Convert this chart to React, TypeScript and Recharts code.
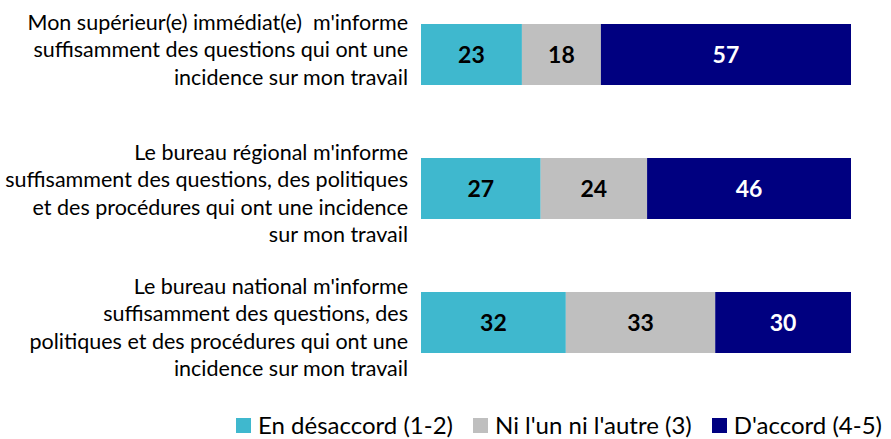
import { Bar, BarChart, LabelList, Legend, XAxis, YAxis } from "recharts";

const categories = [
  ["Mon supérieur(e) immédiat(e)  m'informe", "suffisamment des questions qui ont une", "incidence sur mon travail"],
  ["Le bureau régional m'informe", "suffisamment des questions, des politiques", "et des procédures qui ont une incidence", "sur mon travail"],
  ["Le bureau national m'informe", "suffisamment des questions, des", "politiques et des procédures qui ont une", "incidence sur mon travail"],
];
const disagree = [23, 27, 32];
const neutral = [18, 24, 33];
const agree = [57, 46, 30];

const series = [
  { key: "disagree", name: "En désaccord (1-2)", color: "#3FB8CE", text: "#000000" },
  { key: "neutral", name: "Ni l'un ni l'autre (3)", color: "#BFBFBF", text: "#000000" },
  { key: "agree", name: "D'accord (4-5)", color: "#000080", text: "#ffffff" },
];

const data = categories.map((lines, i) => ({
  label: lines.join("|"),
  disagree: disagree[i],
  neutral: neutral[i],
  agree: agree[i],
}));

const FONT = "Lato, 'Open Sans', sans-serif";

function CategoryTick({ y, payload }: any) {
  const lines = String(payload.value).split("|");
  const lh = 27.5;
  // Excel centres 3-line labels a little high, 4-line ones a little low
  const shift = lines.length > 3 ? 5 : -5;
  const start = y + shift - ((lines.length - 1) * lh) / 2;
  const x = 408;
  return (
    <text x={x} y={start} textAnchor="end" fontFamily={FONT} fontSize={21.5} fill="#000" style={{ whiteSpace: "pre" }}>
      {lines.map((l, i) => (
        <tspan key={i} x={x} y={start + i * lh} dominantBaseline="central">
          {l}
        </tspan>
      ))}
    </text>
  );
}

function LegendContent() {
  return (
    <div
      style={{
        display: "flex",
        paddingLeft: 236,
        fontFamily: FONT,
        fontSize: 24,
        color: "#000",
        lineHeight: "30px",
        height: 30,
        whiteSpace: "nowrap",
      }}
    >
      {series.map((s, i) => (
        <div
          key={s.key}
          style={{ display: "flex", alignItems: "center", flexShrink: 0, marginRight: i < series.length - 1 ? 20 : 0 }}
        >
          <span style={{ width: 15, height: 15, background: s.color, display: "inline-block", marginRight: 7 }} />
          <span>{s.name}</span>
        </div>
      ))}
    </div>
  );
}

export default function App() {
  return (
    <div style={{ position: "absolute", left: 0, top: 0, width: 891, height: 439, background: "#fff", fontFamily: FONT }}>
      <BarChart
        width={891}
        height={439}
        data={data}
        layout="vertical"
        stackOffset="expand"
        barSize={61}
        margin={{ top: -13, right: 40, left: 0, bottom: 20 }}
        style={{ fontFamily: FONT }}
      >
        <XAxis type="number" hide domain={[0, 1]} />
        <YAxis
          type="category"
          dataKey="label"
          width={421}
          axisLine={false}
          tickLine={false}
          tickMargin={0}
          tick={<CategoryTick />}
          interval={0}
        />
        <Legend
          verticalAlign="bottom"
          height={30}
          content={<LegendContent />}
          wrapperStyle={{ bottom: -1, left: 0, width: 891 }}
        />
        {series.map((s) => (
          <Bar key={s.key} dataKey={s.key} name={s.name} stackId="a" fill={s.color} isAnimationActive={false}>
            <LabelList
              dataKey={s.key}
              position="center"
              fill={s.text}
              style={{ fontFamily: FONT, fontWeight: 700, fontSize: 23 }}
            />
          </Bar>
        ))}
      </BarChart>
    </div>
  );
}
